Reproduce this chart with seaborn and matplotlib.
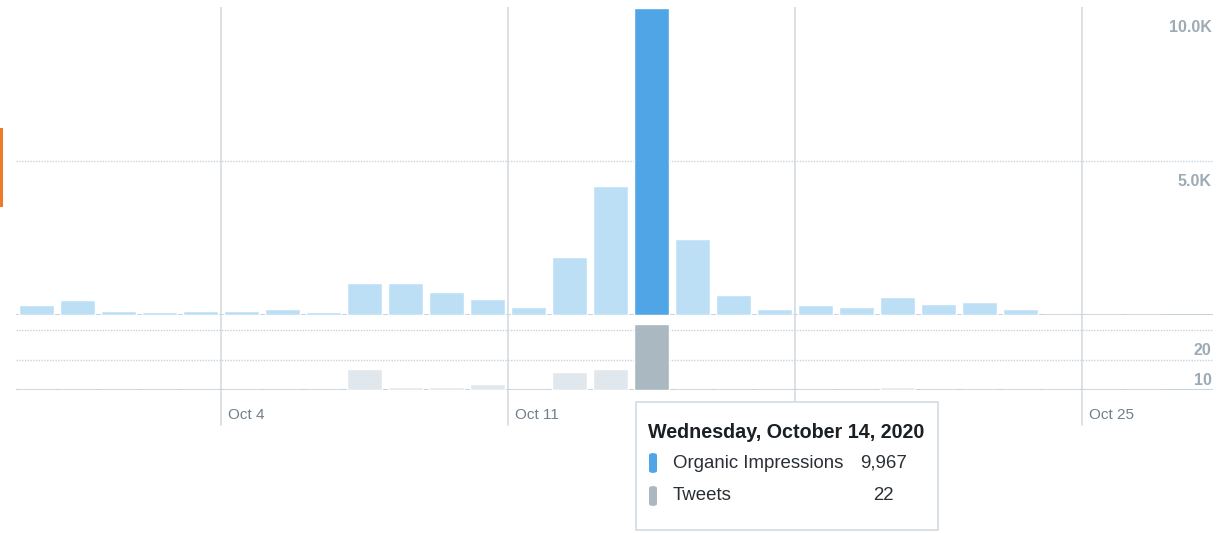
import numpy as np
import pandas as pd
import matplotlib
matplotlib.use("Agg")
import matplotlib.pyplot as plt
import matplotlib.transforms as mtrans
from matplotlib.patches import Rectangle, FancyBboxPatch
import seaborn as sns

# data (Sep 29 - Oct 26, 2020)
days = [d.strftime("%b %d") for d in pd.date_range("2020-09-29", "2020-10-26")]
impressions = [315, 480, 140, 88, 140, 140, 195, 88, 1030, 1030, 750, 520, 250, 1880,
               4190, 9967, 2470, 650, 185, 315, 250, 585, 370, 420, 195, 15, 10, 10]
tweets = [0, 0, 0, 0, 0, 0, 0, 0, 7, 1, 1, 2, 0, 6,
          7, 22, 0, 0, 0, 0, 0, 1, 0, 0, 0, 0, 0, 0]
selected_day = "Oct 14"
tick_days = ["Oct 04", "Oct 11", "Oct 18", "Oct 25"]
tick_labels = ["Oct 4", "Oct 11", "Oct 18", "Oct 25"]
impr_ticks = [5000, 10000]
impr_tick_labels = ["5.0K", "10.0K"]
tweet_ticks = [10, 20]
tweet_tick_labels = ["10", "20"]

df = pd.DataFrame({"day": days, "impressions": impressions, "tweets": tweets})
df["state"] = np.where(df["day"] == selected_day, "sel", "other")

sns.set_style("white")
plt.rcParams["font.family"] = ["Liberation Sans", "DejaVu Sans"]

W, H = 1220, 533
fig = plt.figure(figsize=(W / 100, H / 100), dpi=100)
left, right = 16 / W, 1213 / W
ax_top = fig.add_axes([left, 1 - 315 / H, right - left, (315 - 7) / H])
ax_bot = fig.add_axes([left, 1 - 390 / H, right - left, (390 - 315) / H])

grid_c = "#d5dce2"
dot_c = "#c9d3db"
xlim = (-0.5, 28.7)

sns.barplot(data=df, x="day", y="impressions", hue="state", order=days,
            palette={"other": "#bcdff6", "sel": "#50a5e6"}, dodge=False,
            saturation=1, width=0.85, legend=False, ax=ax_top, zorder=3)
sns.barplot(data=df, x="day", y="tweets", hue="state", order=days,
            palette={"other": "#e1e8ed", "sel": "#aab8c2"}, dodge=False,
            saturation=1, width=0.85, legend=False, ax=ax_bot, zorder=3)

ax_top.set_ylim(0, 10000)
ax_bot.set_ylim(0, 25)
for ax in (ax_top, ax_bot):
    ax.set_xlim(*xlim)
    ax.set_xlabel("")
    ax.set_ylabel("")
    for s in ax.spines.values():
        s.set_visible(False)
    ax.patch.set_alpha(0)
    ax.axhline(0, color=dot_c, lw=1.5, zorder=2)

# vertical day-boundary gridlines
tick_pos = [days.index(d) - 0.5 for d in tick_days]
for x in tick_pos:
    ax_top.axvline(x, color=grid_c, lw=1.2, zorder=1)
    ax_bot.axvline(x, ymin=-0.47, ymax=1, color=grid_c, lw=1.2, zorder=1, clip_on=False)

# dotted horizontal gridlines (the 10K one sits on the top edge and is not drawn)
for y in impr_ticks[:-1]:
    ax_top.axhline(y, color=dot_c, lw=1, ls=(0, (1, 1)), zorder=1)
for y in tweet_ticks:
    ax_bot.axhline(y, color=dot_c, lw=1, ls=(0, (1, 1)), zorder=1)

# y labels on the right, inside, under their gridlines
down = mtrans.ScaledTranslation(0, -0.13, fig.dpi_scale_trans)
for ax, ticks, labels in ((ax_top, impr_ticks, impr_tick_labels),
                          (ax_bot, tweet_ticks, tweet_tick_labels)):
    ax.yaxis.tick_right()
    ax.set_yticks(ticks)
    ax.set_yticklabels(labels, fontsize=11.5, color="#9cabb6", fontweight="bold")
    ax.tick_params(axis="y", length=0, pad=-1)
    for lab in ax.get_yticklabels():
        lab.set_horizontalalignment("right")
        lab.set_verticalalignment("top")
        lab.set_transform(lab.get_transform() + down)

ax_top.set_xticks([])
ax_bot.set_xticks(tick_pos)
ax_bot.set_xticklabels(tick_labels, fontsize=11, color="#707f8a")
ax_bot.tick_params(axis="x", length=0, pad=13)
shift = mtrans.ScaledTranslation(0.07, 0, fig.dpi_scale_trans)
for lab in ax_bot.get_xticklabels():
    lab.set_horizontalalignment("left")
    lab.set_transform(lab.get_transform() + shift)

# orange marker at the left edge
fig.patches.append(Rectangle((0, 1 - 207 / H), 3 / W, 79 / H, transform=fig.transFigure,
                             facecolor="#f07a2a", edgecolor="none", zorder=5))

# tooltip for the selected day
sel = days.index(selected_day)
fig.patches.append(Rectangle((636 / W, 1 - 530 / H), 302 / W, 128 / H,
                             transform=fig.transFigure, facecolor="white",
                             edgecolor="#d3dbe2", lw=1.2, zorder=10))
fig.text(648 / W, 1 - 432 / H, "Wednesday, October 14, 2020", fontsize=14.2,
         fontweight="bold", color="#1a1f24", va="center", zorder=11)
rows = [("Organic Impressions", f"{impressions[sel]:,}", "#50a5e6", 463, 860),
        ("Tweets", f"{tweets[sel]}", "#aab8c2", 496, 873)]
for name, val, c, y, vx in rows:
    fig.patches.append(FancyBboxPatch((649 / W, 1 - (y + 10) / H), 8 / W, 20 / H,
                                      boxstyle="round,pad=0,rounding_size=0.004",
                                      transform=fig.transFigure, facecolor=c,
                                      edgecolor="none", zorder=11))
    fig.text(673 / W, 1 - y / H, name, fontsize=13.4, color="#2a2f35", va="center", zorder=11)
    fig.text(vx / W, 1 - y / H, val, fontsize=13.4, color="#2a2f35", va="center", zorder=11)

fig.savefig("out.png", dpi=100)
